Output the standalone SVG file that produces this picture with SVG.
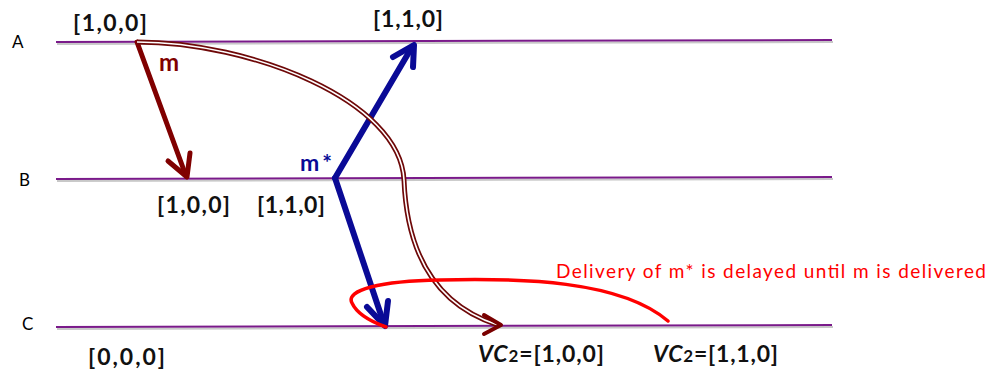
<svg xmlns="http://www.w3.org/2000/svg" width="992" height="371" viewBox="0 0 992 371">
<style>
.bg{fill:#ffffff}
.shadow{stroke:#c8c8c8;stroke-width:2;fill:none}
.tl{stroke:#7a1a8a;stroke-width:2;fill:none}
.proc{font-family:Lato,"Liberation Sans",sans-serif;font-size:17px;fill:#000}
.vc{font-family:Lato,"Liberation Sans",sans-serif;font-size:23px;font-weight:bold;fill:#111}
.mred{stroke:#800000;stroke-width:5;fill:none;stroke-linecap:round;stroke-linejoin:round}
.mblue{stroke:#0a0a96;stroke-width:6;fill:none;stroke-linecap:round;stroke-linejoin:round}
.dbl-o{stroke:#6e0808;stroke-width:5;fill:none}
.dbl-i{stroke:#ffffff;stroke-width:1.6;fill:none}
.head{stroke:#7a0000;stroke-width:4;fill:none;stroke-linecap:round;stroke-linejoin:round}
.loop{stroke:#ff0000;stroke-width:3.5;fill:none;stroke-linecap:round}
.lred{font-family:Lato,"Liberation Sans",sans-serif;font-size:24px;font-weight:bold;fill:#800000}
.lblue{font-family:Lato,"Liberation Sans",sans-serif;font-size:23px;font-weight:bold;fill:#0a0a96}
.note{font-family:Lato,"Liberation Sans",sans-serif;font-size:19px;fill:#ff0000}
</style>
<rect class="bg" x="0" y="0" width="992" height="371"/>
<g id="processA">
<line class="shadow" x1="57" y1="44" x2="833" y2="42"/>
<line class="tl" x1="56" y1="42" x2="832" y2="40"/>
<text class="proc" x="12" y="48">A</text>
</g>
<g id="processB">
<line class="shadow" x1="57" y1="181" x2="833" y2="179"/>
<line class="tl" x1="56" y1="179" x2="832" y2="177"/>
<text class="proc" x="19" y="186">B</text>
</g>
<g id="processC">
<line class="shadow" x1="57" y1="329" x2="833" y2="327"/>
<line class="tl" x1="56" y1="327" x2="832" y2="325"/>
<text class="proc" x="22" y="330">C</text>
</g>
<g id="labels">
<text class="vc" x="73" y="31" textLength="74">[1,0,0]</text>
<text class="vc" x="373" y="27" textLength="70">[1,1,0]</text>
<text class="vc" x="157" y="213" textLength="73">[1,0,0]</text>
<text class="vc" x="257" y="213" textLength="68">[1,1,0]</text>
<text class="vc" x="88" y="365" textLength="77">[0,0,0]</text>
<text class="vc" x="478" y="362" textLength="126"><tspan font-style="italic">VC</tspan><tspan font-size="17">2</tspan>=[1,0,0]</text>
<text class="vc" x="653" y="362" textLength="125"><tspan font-style="italic">VC</tspan><tspan font-size="17">2</tspan>=[1,1,0]</text>
<text class="lred" x="159" y="71" textLength="22">m</text>
<text class="lblue" x="300" y="171" textLength="32">m*</text>
<text class="note" x="556" y="278" textLength="430">Delivery of m* is delayed until m is delivered</text>
</g>
<g id="connectors">
<g id="msg-m">
<line class="mred" x1="137" y1="42" x2="186" y2="176"/>
<polyline class="mred" points="168,161 187,177 190,153"/>
</g>
<g id="msg-mstar-A">
<line class="mblue" x1="335" y1="178" x2="412" y2="47"/>
<polyline class="mblue" points="393,57 414,45 413,67"/>
</g>
<g id="msg-mstar-C">
<line class="mblue" x1="335" y1="178" x2="384" y2="324"/>
<polyline class="mblue" points="367,307 385,326 388,301"/>
</g>
<g id="msg-m-C">
<path class="dbl-o" d="M137 42 C250 42 400 100 404 180 C406 230 420 300 498 325"/>
<path class="dbl-i" d="M137 42 C250 42 400 100 404 180 C406 230 420 300 498 325"/>
<polyline class="head" points="484,315 501,325 484,334"/>
</g>
<g id="delay-loop">
<path class="loop" d="M668 321 C620 280 520 278 440 280 C380 281 345 290 352 303 C357 314 372 322 386 327"/>
</g>
</g>
</svg>
